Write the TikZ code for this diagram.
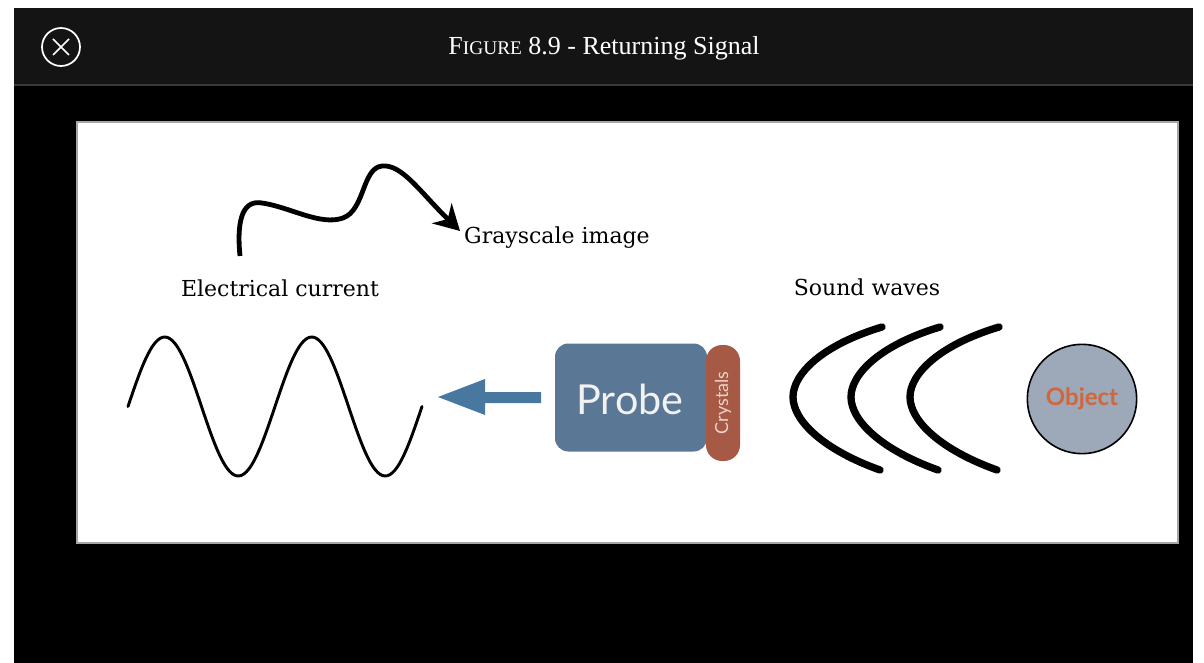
\documentclass[tikz,border=0pt]{standalone}
\usepackage{fontspec}
\setmainfont{Liberation Serif}
\newfontfamily\labelfont{DejaVu Serif}
\newfontfamily\gillfont{Lato}
\usetikzlibrary{arrows.meta,positioning,calc}

\definecolor{headgray}{HTML}{141414}
\definecolor{rulegray}{HTML}{3A3A3A}
\definecolor{probeblue}{HTML}{5A7896}
\definecolor{arrowblue}{HTML}{4877A0}
\definecolor{crystalred}{HTML}{A65A45}
\definecolor{crystaltext}{HTML}{EBD3C8}
\definecolor{objectgray}{HTML}{9DA8B8}
\definecolor{objectorange}{HTML}{D2663A}

\tikzset{
  caption/.style={font=\labelfont\fontsize{16.5}{18}\selectfont, inner sep=0pt},
  wave/.style={line width=5.5pt, line cap=round},
  signal/.style={line width=2.2pt, line cap=round},
}

\begin{document}
\begin{tikzpicture}[x=0.75pt, y=-0.75pt, >=Stealth]
  \useasboundingbox (0,0) rectangle (1204,663);

  % Frame
  \fill[white] (0,0) rectangle (1204,663);
  \fill[headgray] (14,8) rectangle (1193,85);
  \fill[rulegray] (14,84) rectangle (1193,86);
  \fill[black] (14,86) rectangle (1193,663);
  \draw[fill=white, draw=gray!70, line width=0.8pt] (77,122) rectangle (1178,543);

  % Header
  \node (close) [circle, draw=white, line width=1.3pt, minimum size=28.5pt, inner sep=0pt] at (61,47) {};
  \draw[white, line width=1.3pt] ($(close)+(-8,-8)$) -- ($(close)+(8,8)$);
  \draw[white, line width=1.3pt] ($(close)+(-8,8)$) -- ($(close)+(8,-8)$);
  \node (title) [text=white, inner sep=0pt] at (604,48)
    {\fontsize{19.5}{22}\selectfont F{\fontsize{14.5}{16}\selectfont IGURE} 8.9 - Returning Signal};

  % Labels
  \node (current) [caption] at (280,288) {Electrical current};
  \node (gray) [caption] at (557,238) {Grayscale image};
  \node (sound) [caption] at (867,287) {Sound waves};

  % Squiggle arrow
  \coordinate (sqstart) at (240,256);
  \coordinate (sqend) at (460,231);
  \draw[line width=3.6pt, -{Stealth[length=19pt, width=21pt]}]
    (sqstart) .. controls (236,215) and (245,200) .. (262,203)
    .. controls (290,207) and (320,226) .. (343,218)
    .. controls (365,210) and (362,168) .. (382,166)
    .. controls (402,164) and (420,192) .. (sqend);

  % Electrical signal
  \draw[signal] plot[domain=0:720, samples=120, smooth]
    ({128+\x/360*147}, {406.5-69.5*sin(\x)});

  % Probe and crystals
  \node (probe) [fill=probeblue, rounded corners=10pt, minimum width=114pt, minimum height=81pt,
    inner sep=0pt] at (631,397.5) {};
  \node [text=white!95!black, font=\gillfont\fontsize{31}{34}\selectfont] at (630,399) {Probe};
  \node (crystals) [fill=crystalred, rounded corners=12pt, minimum width=25.5pt, minimum height=87pt,
    inner sep=0pt] at (723,403) {};
  \node [rotate=90, text=crystaltext, font=\gillfont\fontsize{13.5}{14}\selectfont] at (crystals) {Crystals};

  % Returning arrow
  \coordinate (arrtail) at (541,398);
  \coordinate (arrtip) at (438,397);
  \fill[arrowblue] (arrtip) -- ++(47,-18) -- ++(0,13) -- ++(56,0) -- ++(0,11)
    -- ++(-56,0) -- ++(0,12) -- cycle;

  % Sound waves
  \foreach \dx in {0,58,117} {
    \draw[wave] (882+\dx,327) .. controls (822+\dx,345) and (793+\dx,374) .. (793+\dx,397)
      .. controls (793+\dx,421) and (824+\dx,450) .. (880+\dx,470);
  }

  % Object
  \node (object) [circle, fill=objectgray, draw=black, line width=1.2pt, minimum size=82pt,
    text=objectorange, font=\gillfont\bfseries\fontsize{18}{19}\selectfont] at (1082,399) {Object};
\end{tikzpicture}
\end{document}
